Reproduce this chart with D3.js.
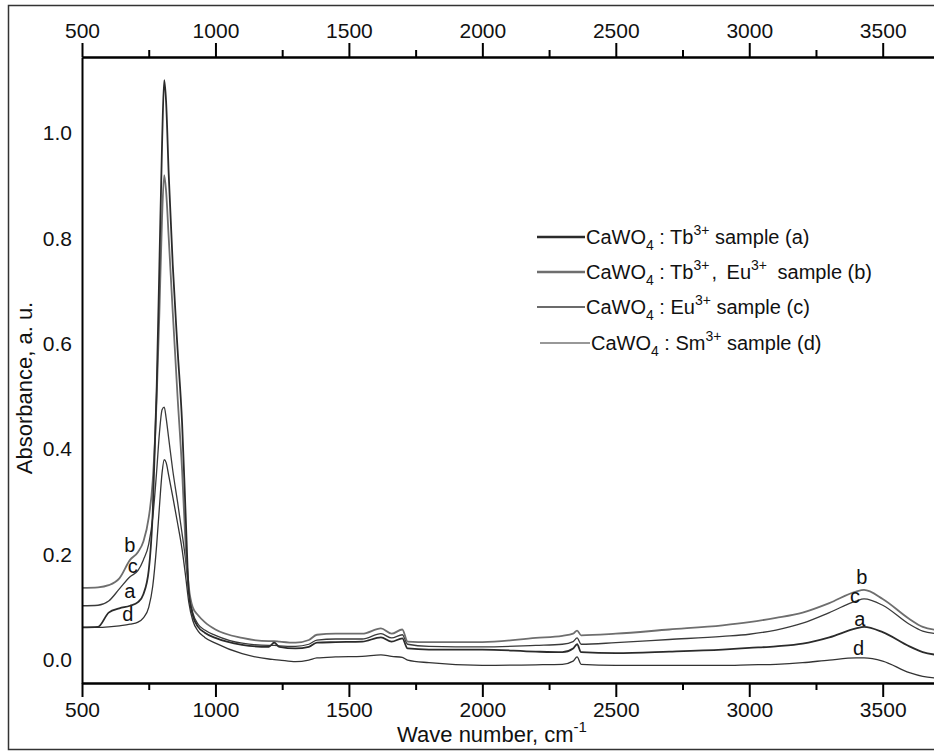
<!DOCTYPE html>
<meta charset="utf-8">
<html>
  <head>
    <style>
      body { margin: 0; background: #fff; }
      svg text { font-family: "Liberation Sans", Arial, sans-serif; fill: #111; }
    </style>
  </head>
  <body>
    <div id="chart"></div>
  </body>
<script src="https://d3js.org/d3.v7.min.js"></script>
<script>
// IR absorbance spectra of doped CaWO4 samples

// wave numbers (cm-1) shared by all four spectra
var waves = [500, 560, 600, 640, 680, 710, 730, 750, 765, 780, 790, 800, 808, 815, 825, 840, 858, 875, 888, 900,
  915, 935, 960, 1000, 1100, 1200, 1220, 1240, 1300, 1350, 1380, 1450, 1550, 1620, 1660, 1700, 1720, 1800, 2000, 2200,
  2300, 2340, 2355, 2370, 2500, 2700, 2900, 3000, 3100, 3200, 3300, 3400, 3430, 3500, 3600, 3650, 3700]

// absorbance values, one array per sample
var seriesA = [0.062, 0.063, 0.090, 0.098, 0.103, 0.110, 0.125, 0.170, 0.280, 0.520, 0.750, 0.980, 1.100, 1.060, 0.920, 0.750, 0.590, 0.450, 0.280, 0.130,
  0.085, 0.063, 0.052, 0.042, 0.029, 0.025, 0.033, 0.025, 0.022, 0.025, 0.033, 0.034, 0.035, 0.043, 0.035, 0.041, 0.022, 0.020, 0.020, 0.016,
  0.015, 0.022, 0.030, 0.015, 0.013, 0.016, 0.020, 0.023, 0.026, 0.031, 0.043, 0.060, 0.063, 0.053, 0.026, 0.015, 0.010]
var seriesB = [0.137, 0.138, 0.142, 0.155, 0.190, 0.205, 0.225, 0.270, 0.340, 0.500, 0.660, 0.840, 0.920, 0.890, 0.800, 0.660, 0.500, 0.360, 0.220, 0.140,
  0.100, 0.085, 0.072, 0.058, 0.042, 0.036, 0.036, 0.035, 0.033, 0.038, 0.048, 0.050, 0.050, 0.060, 0.050, 0.058, 0.035, 0.034, 0.034, 0.042,
  0.046, 0.050, 0.056, 0.047, 0.050, 0.058, 0.066, 0.072, 0.080, 0.090, 0.108, 0.130, 0.133, 0.116, 0.078, 0.063, 0.057]
var seriesC = [0.103, 0.104, 0.112, 0.135, 0.158, 0.170, 0.190, 0.220, 0.270, 0.360, 0.430, 0.475, 0.480, 0.460, 0.420, 0.360, 0.300, 0.240, 0.190, 0.130,
  0.090, 0.068, 0.057, 0.047, 0.032, 0.028, 0.028, 0.027, 0.026, 0.030, 0.038, 0.040, 0.040, 0.050, 0.042, 0.048, 0.030, 0.026, 0.025, 0.028,
  0.030, 0.035, 0.042, 0.030, 0.033, 0.039, 0.045, 0.049, 0.057, 0.070, 0.090, 0.112, 0.116, 0.104, 0.068, 0.055, 0.050]
var seriesD = [0.062, 0.062, 0.063, 0.065, 0.068, 0.072, 0.080, 0.100, 0.140, 0.220, 0.290, 0.355, 0.380, 0.375, 0.350, 0.310, 0.260, 0.210, 0.160, 0.110,
  0.075, 0.055, 0.043, 0.032, 0.012, 0.002, 0.001, 0.000, -0.003, 0.000, 0.004, 0.006, 0.007, 0.010, 0.007, 0.005, 0.000, -0.005, -0.010, -0.009,
  -0.008, -0.002, 0.006, -0.008, -0.010, -0.010, -0.010, -0.009, -0.008, -0.005, 0.000, 0.004, 0.004, -0.002, -0.024, -0.031, -0.034]

var sampleKeys = ["a", "b", "c", "d"]

// letters written next to the curves: [wave, absorbance]
var leftLetters = [[679, 0.131], [679, 0.218], [690, 0.178], [672, 0.087]]
var rightLetters = [[3414, 0.078], [3422, 0.157], [3396, 0.121], [3410, 0.023]]

// tick values
var xTicks = [500, 1000, 1500, 2000, 2500, 3000, 3500]
var xMinorTicks = [750, 1250, 1750, 2250, 2750, 3250]
var yTicks = [0.0, 0.2, 0.4, 0.6, 0.8, 1.0]

// legend texts, split in normal / subscript / superscript parts (third item = extra gap before the part)
var legendParts = [
  [["CaWO", "", 0], ["4", "sub", 0], [" : Tb", "", 0], ["3+", "sup", 0], [" sample (a)", "", 0]],
  [["CaWO", "", 0], ["4", "sub", 0], [" : Tb", "", 0], ["3+", "sup", 0], [",", "", 2], [" Eu", "", 4], ["3+", "sup", 0], [" sample (b)", "", 5]],
  [["CaWO", "", 0], ["4", "sub", 0], [" : Eu", "", 0], ["3+", "sup", 0], [" sample (c)", "", 0]],
  [["CaWO", "", 0], ["4", "sub", 0], [" : Sm", "", 0], ["3+", "sup", 0], [" sample (d)", "", 0]]
]

var styles = {
  a: {color: "#2b2b2b", width: 1.8, legendWidth: 2.6},
  b: {color: "#6e6e6e", width: 1.8, legendWidth: 2.6},
  c: {color: "#3a3a3a", width: 1.3, legendWidth: 1.3},
  d: {color: "#333", width: 1.3, legendWidth: 1.2}
}

var W = 934, H = 752
var plotL = 82, plotT = 57, plotB = 683, plotR = 934

var svg = d3.select("#chart").append("svg")
  .attr("width", W)
  .attr("height", H)

// outer frame
svg.append("rect")
  .attr("x", 8.5).attr("y", 5.5)
  .attr("width", 940).attr("height", 744)
  .style("fill", "none")
  .style("stroke", "#333")
  .style("stroke-width", 1.5)

var x = d3.scaleLinear().domain([500, 500 + (936 - plotL) / 0.2669]).range([plotL, 936])
var y = d3.scaleLinear().domain([-0.0435, 1.144]).range([plotB, plotT])

svg.append("clipPath").attr("id", "plotclip")
  .append("rect")
  .attr("x", plotL).attr("y", plotT)
  .attr("width", plotR - plotL).attr("height", plotB - plotT)

// spectra
var line = d3.line()
  .x(function(d) { return x(d[0]) })
  .y(function(d) { return y(d[1]) })
  .curve(d3.curveMonotoneX)

var allSeries = {a: seriesA, b: seriesB, c: seriesC, d: seriesD}

// draw thin ones first so the thick ones sit on top
;["d", "c", "b", "a"].forEach(function(k) {
  var pts = waves.map(function(w, i) { return [w, allSeries[k][i]] })
  svg.append("path")
    .datum(pts)
    .attr("clip-path", "url(#plotclip)")
    .attr("d", line)
    .style("fill", "none")
    .style("stroke", styles[k].color)
    .style("stroke-width", styles[k].width)
    .style("stroke-linejoin", "round")
})

// axes
var axisStyle = function(g) {
  g.select(".domain").style("stroke", "#000").style("stroke-width", 2)
  g.selectAll(".tick line").style("stroke", "#000").style("stroke-width", 2)
  g.selectAll("text").style("font-size", "21px").style("fill", "#111")
    .style("font-family", "'Liberation Sans', Arial, sans-serif")
}

svg.append("g")
  .attr("transform", "translate(0," + plotB + ")")
  .call(d3.axisBottom(x).tickValues(xTicks).tickFormat(d3.format("d")).tickSize(14).tickSizeOuter(0).tickPadding(5))
  .call(axisStyle)
svg.append("g")
  .attr("transform", "translate(0," + plotB + ")")
  .call(d3.axisBottom(x).tickValues(xMinorTicks).tickFormat("").tickSize(7).tickSizeOuter(0))
  .call(axisStyle)

svg.append("g")
  .attr("transform", "translate(0," + plotT + ")")
  .call(d3.axisTop(x).tickValues(xTicks).tickFormat(d3.format("d")).tickSize(14).tickSizeOuter(0).tickPadding(5))
  .call(axisStyle)
svg.append("g")
  .attr("transform", "translate(0," + plotT + ")")
  .call(d3.axisTop(x).tickValues(xMinorTicks).tickFormat("").tickSize(7).tickSizeOuter(0))
  .call(axisStyle)

svg.append("g")
  .attr("transform", "translate(" + plotL + ",0)")
  .call(d3.axisLeft(y).tickValues(yTicks).tickFormat(d3.format(".1f")).tickSize(0).tickPadding(10))
  .call(axisStyle)

// axis titles
svg.append("text")
  .attr("transform", "translate(32,388) rotate(-90)")
  .attr("text-anchor", "middle")
  .style("font-size", "22px")
  .text("Absorbance, a. u.")

var xTitle = svg.append("text")
  .attr("x", 492)
  .attr("y", 742)
  .attr("text-anchor", "middle")
  .style("font-size", "22px")
xTitle.append("tspan").text("Wave number, cm")
xTitle.append("tspan").attr("dy", -10).style("font-size", "15px").text("-1")

// curve letters
sampleKeys.forEach(function(k, i) {
  ;[leftLetters[i], rightLetters[i]].forEach(function(p) {
    svg.append("text")
      .attr("x", x(p[0]))
      .attr("y", y(p[1]))
      .attr("dy", "0.35em")
      .attr("text-anchor", "middle")
      .style("font-size", "20px")
      .text(k)
  })
})

// legend
var legendY = [237, 272, 307, 343]
var legendX0 = [537, 537, 537, 540]
var legendX1 = [585, 585, 585, 590]

sampleKeys.forEach(function(k, i) {
  svg.append("line")
    .attr("x1", legendX0[i]).attr("x2", legendX1[i])
    .attr("y1", legendY[i]).attr("y2", legendY[i])
    .style("stroke", styles[k].color)
    .style("stroke-width", styles[k].legendWidth)

  var t = svg.append("text")
    .attr("x", legendX1[i] + 1)
    .attr("y", legendY[i] + 7)
    .style("font-size", "20px")
  var shift = 0
  legendParts[i].forEach(function(p) {
    var want = p[1] === "sup" ? -9 : (p[1] === "sub" ? 6 : 0)
    t.append("tspan")
      .attr("dy", want - shift)
      .attr("dx", p[2])
      .style("font-size", p[1] === "" ? "20px" : "14px")
      .text(p[0])
    shift = want
  })
})
</script>
</html>
